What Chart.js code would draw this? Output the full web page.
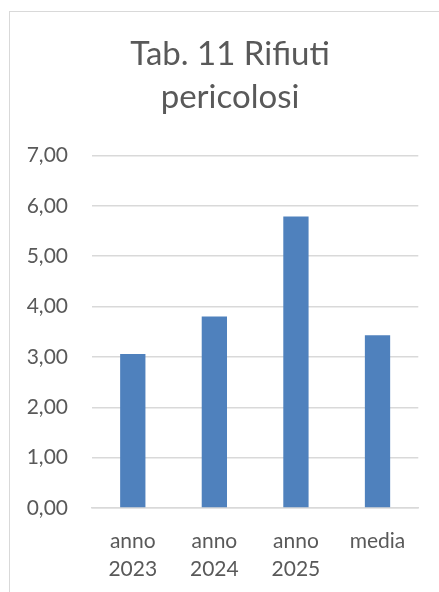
<!DOCTYPE html>
<html>
<head>
<meta charset="utf-8">
<script src="https://cdn.jsdelivr.net/npm/chart.js@4"></script>
<style>
html,body{margin:0;padding:0;background:#fff;overflow:hidden;}
#wrap{position:relative;width:440px;height:592px;}
</style>
</head>
<body>
<div id="wrap"><canvas id="c" width="440" height="592"></canvas></div>
<script>
const categories = [["anno","2023"],["anno","2024"],["anno","2025"],"media"];
const values = [3.06, 3.80, 5.79, 3.43];
const titleLines = ["Tab. 11 Rifiuti","pericolosi"];
const yMin = 0, yMax = 7, yStep = 1;

const frame = {
  id:'frame',
  beforeDraw(chart){
    const ctx = chart.ctx;
    ctx.save();
    ctx.fillStyle='#fff';
    ctx.fillRect(0,0,chart.width,chart.height);
    ctx.strokeStyle='#d9d9d9';
    ctx.lineWidth=1;
    ctx.strokeRect(9.5,11.5,1000,1000);
    ctx.restore();
  }
};

new Chart(document.getElementById('c'), {
  type:'bar',
  data:{labels:categories, datasets:[{data:values, backgroundColor:'#4f81bd', borderWidth:0, barPercentage:0.31, categoryPercentage:1}]},
  options:{
    responsive:false, animation:false, devicePixelRatio:1,
    layout:{padding:{left:20,right:0,top:0,bottom:0}},
    plugins:{
      legend:{display:false}, tooltip:{enabled:false},
      title:{display:true, text:titleLines, color:'#595959',
        font:{family:'Lato', size:33, weight:'normal', lineHeight:1.31},
        padding:{top:33, bottom:36}}
    },
    scales:{
      x:{
        grid:{display:false, drawTicks:false},
        border:{display:true, color:'#d9d9d9', width:1.5},
        ticks:{color:'#595959', font:{family:'Lato', size:21, lineHeight:1.33}, padding:19, maxRotation:0, autoSkip:false},
        afterFit(s){ s.height = 84; }
      },
      y:{
        min:yMin, max:yMax,
        grid:{color:'#d9d9d9', lineWidth:1.5, drawTicks:false},
        border:{display:false},
        ticks:{stepSize:yStep, color:'#595959', font:{family:'Lato', size:21}, padding:24,
          callback:(v)=>v.toFixed(2).replace('.',',')},
        afterFit(s){ s.width = 72; }
      },
      yRight:{
        position:'right', display:true, min:yMin, max:yMax,
        grid:{display:false, drawTicks:false}, border:{display:false},
        ticks:{display:false},
        afterFit(s){ s.width = 21.7; }
      }
    }
  },
  plugins:[frame]
});
</script>
</body>
</html>
